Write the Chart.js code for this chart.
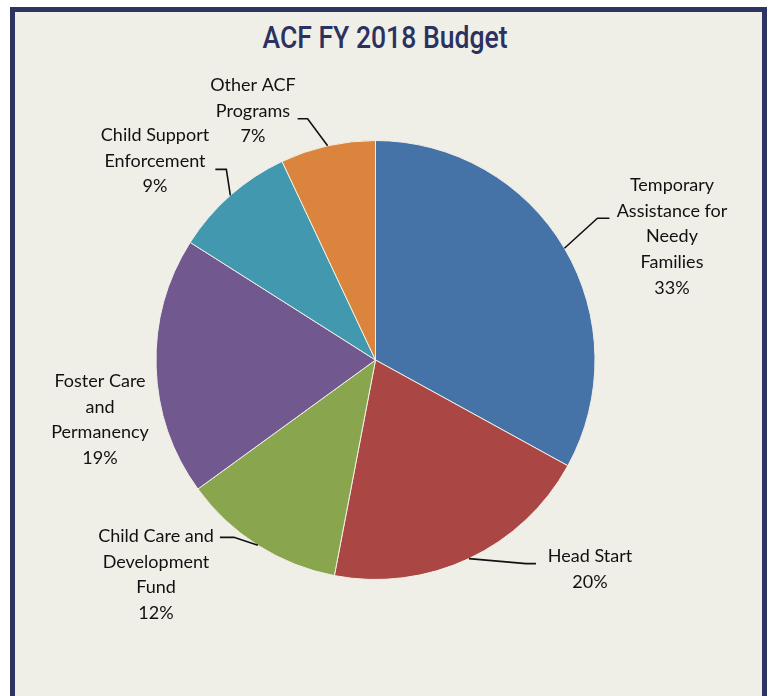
<!DOCTYPE html>
<html>
<head>
<meta charset="utf-8">
<script src="https://cdn.jsdelivr.net/npm/chart.js@4"></script>
<style>
  html, body { margin: 0; padding: 0; background: #fff; }
  body { width: 772px; height: 696px; position: relative; overflow: hidden; }
  .frame {
    position: absolute; left: 10px; top: 7px; width: 747px; height: 720px;
    border: 5px solid #2d3462; background: #f0efe7;
  }
  .title-wrap { position: absolute; left: 0; top: 20px; width: 772px; text-align: center; }
  .title {
    display: inline-block; transform-origin: 50% 50%;
    font-family: Roboto, "Liberation Sans", sans-serif;
    font-weight: 500; font-size: 31px; line-height: 36px; color: #2b3160;
    margin-left: -2px;
  }
  #budgetChart { position: absolute; left: 0; top: 0; }
</style>
</head>
<body>
<div class="frame"></div>
<div class="title-wrap"><span class="title" id="title">ACF FY 2018 Budget</span></div>
<canvas id="budgetChart" width="772" height="696"></canvas>
<script>
const programs = [
  ['Temporary', 'Assistance for', 'Needy', 'Families'],
  ['Head Start'],
  ['Child Care and', 'Development', 'Fund'],
  ['Foster Care', 'and', 'Permanency'],
  ['Child Support', 'Enforcement'],
  ['Other ACF', 'Programs']
];
const shares = [33, 20, 12, 19, 9, 7];
const sliceColors = ['#4572a7', '#aa4643', '#89a54e', '#71588f', '#4198af', '#db843d'];

// narrow the title to the condensed look of the original
const titleEl = document.getElementById('title');
titleEl.style.transform = 'scaleX(' + (245 / titleEl.getBoundingClientRect().width) + ')';

// label placement: elbow/end of leader relative to slice anchor, text block center + first line y
const labelLayout = [
  { elbow: [33, -30], end: [45, -30], tx: 672, ty: 185 },
  { elbow: [57, 5], end: [67, 5], tx: 590, ty: 556 },
  { elbow: [-24, -8], end: [-38, -8], tx: 156, ty: 536 },
  { elbow: null, end: null, tx: 100, ty: 381 },
  { elbow: [-4, -26], end: [-15, -26], tx: 155, ty: 135 },
  { elbow: [-20, -27], end: [-30, -27], tx: 253, ty: 85 }
];

const pieLabels = {
  id: 'pieLabels',
  afterDraw(chart) {
    const ctx = chart.ctx;
    const arcs = chart.getDatasetMeta(0).data;
    ctx.save();
    ctx.font = '18px Lato, "Open Sans", sans-serif';
    ctx.fillStyle = '#111';
    ctx.strokeStyle = '#111';
    ctx.lineWidth = 1.6;
    ctx.textAlign = 'center';
    ctx.textBaseline = 'middle';
    arcs.forEach((arc, i) => {
      const p = arc.getProps(['x', 'y', 'startAngle', 'endAngle', 'outerRadius'], true);
      const mid = (p.startAngle + p.endAngle) / 2;
      const ax = p.x + Math.cos(mid) * p.outerRadius;
      const ay = p.y + Math.sin(mid) * p.outerRadius;
      const lay = labelLayout[i];
      if (lay.elbow) {
        ctx.beginPath();
        ctx.moveTo(ax, ay);
        ctx.lineTo(ax + lay.elbow[0], ay + lay.elbow[1]);
        ctx.lineTo(ax + lay.end[0], ay + lay.end[1]);
        ctx.stroke();
      }
      const lines = programs[i].concat([shares[i] + '%']);
      lines.forEach((t, k) => ctx.fillText(t, lay.tx, lay.ty + k * 25.8));
    });
    ctx.restore();
  }
};

new Chart(document.getElementById('budgetChart').getContext('2d'), {
  type: 'pie',
  data: {
    labels: programs.map(p => p.join(' ')),
    datasets: [{
      data: shares,
      backgroundColor: sliceColors,
      borderColor: '#f0efe7',
      borderWidth: 1
    }]
  },
  options: {
    responsive: false,
    animation: false,
    layout: { padding: { left: 155, right: 176, top: 140, bottom: 116 } },
    plugins: {
      legend: { display: false },
      tooltip: { enabled: false }
    }
  },
  plugins: [pieLabels]
});
</script>
</body>
</html>
